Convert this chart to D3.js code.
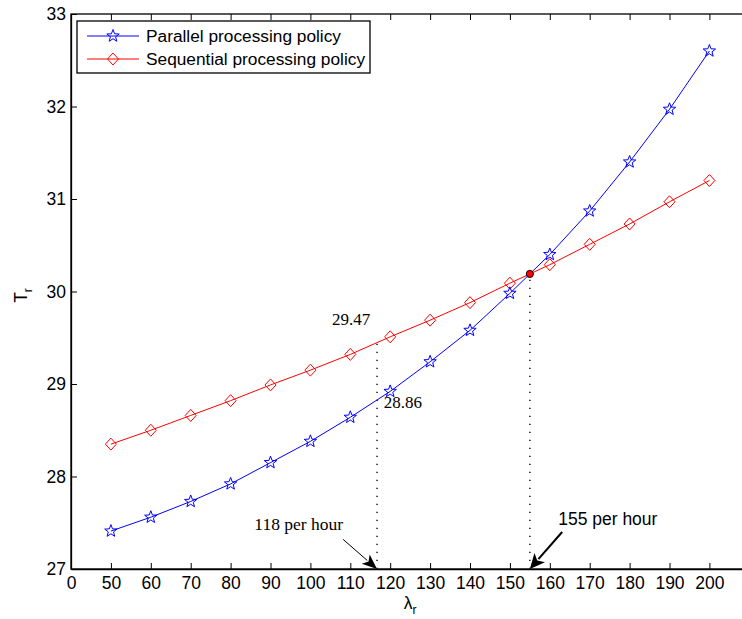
<!DOCTYPE html>
<html>
<head>
<meta charset="utf-8">
<script src="https://cdn.jsdelivr.net/npm/d3@7"></script>
<style>
  html, body { margin: 0; padding: 0; background: #fff; }
  svg { display: block; }
  .tick text { font-family: "Liberation Sans", Arial, Helvetica, sans-serif; font-size: 17.5px; fill: #000; }
</style>
</head>
<body>
<svg id="chart" width="742" height="619"></svg>
<script>
// ---- data ----
const lambda = [50, 60, 70, 80, 90, 100, 110, 120, 130, 140, 150, 160, 170, 180, 190, 200];
const parallelT = [27.41, 27.56, 27.73, 27.92, 28.15, 28.38, 28.64, 28.92, 29.24, 29.58, 29.98, 30.40, 30.87, 31.40, 31.97, 32.60];
const sequentialT = [28.35, 28.50, 28.66, 28.82, 28.99, 29.15, 29.32, 29.51, 29.69, 29.88, 30.09, 30.29, 30.51, 30.73, 30.97, 31.20];
const seriesNames = ["Parallel processing policy", "Sequential processing policy"];
const xTicks = [0, 50, 60, 70, 80, 90, 100, 110, 120, 130, 140, 150, 160, 170, 180, 190, 200];
const yTicks = [27, 28, 29, 30, 31, 32, 33];
const crossPoint = [155, 30.19];
const marker1 = { x: 116.7, top: 29.45, valueSeq: "29.47", valuePar: "28.86", label: "118 per hour" };
const marker2 = { x: 155, top: 30.19, label: "155 per hour" };
// annotation anchors in data units
const label29 = [105.4, 29.64];
const label28 = [118.4, 28.74];
const arrow1Tail = [108.2, 27.32];
const arrow2Tail = [163.1, 27.40];
const label118 = [108.2, 27.42];
const label155 = [162.1, 27.48];

// ---- layout ----
const svg = d3.select("#chart");
const plotLeft = 71, plotTop = 14, plotBottom = 569;
const step = 39.9;
const x = d3.scaleLinear().domain([0, 50, 210]).range([plotLeft, plotLeft + step, plotLeft + step * 17]);
const y = d3.scaleLinear().domain([27, 33]).range([plotBottom, plotTop]);

const blue = "#0000ff", red = "#ff0000";
const sans = '"Liberation Sans", Arial, Helvetica, sans-serif';
const serif = '"Liberation Serif", "Times New Roman", Times, serif';

// frame (top and left visible; right edge beyond canvas)
svg.append("rect")
  .attr("x", x(0)).attr("y", y(33))
  .attr("width", x(210) - x(0)).attr("height", y(27) - y(33))
  .attr("fill", "none").attr("stroke", "#000").attr("stroke-width", 1.3);

// axes
const xAxis = d3.axisBottom(x).tickValues(xTicks).tickFormat(d3.format("d")).tickSizeInner(-6).tickSizeOuter(0).tickPadding(8);
const gx = svg.append("g").attr("transform", `translate(0,${plotBottom})`).call(xAxis);
gx.select(".domain").attr("stroke", "#000").attr("stroke-width", 1.3);
gx.selectAll(".tick line").attr("stroke", "#000");

const xTop = d3.axisTop(x).tickValues(xTicks).tickFormat("").tickSizeInner(-6).tickSizeOuter(0);
const gxt = svg.append("g").attr("transform", `translate(0,${plotTop})`).call(xTop);
gxt.select(".domain").remove();
gxt.selectAll(".tick line").attr("stroke", "#000");

const yAxis = d3.axisLeft(y).tickValues(yTicks).tickFormat(d3.format("d")).tickSizeInner(-6).tickSizeOuter(0).tickPadding(5);
const gy = svg.append("g").attr("transform", `translate(${plotLeft},0)`).call(yAxis);
gy.select(".domain").attr("stroke", "#000").attr("stroke-width", 1.3);
gy.selectAll(".tick line").attr("stroke", "#000");

// axis labels
svg.append("text")
  .attr("transform", `translate(27,${(plotTop + plotBottom) / 2 + 4}) rotate(-90)`)
  .attr("text-anchor", "middle")
  .attr("font-family", sans).attr("font-size", 17.5)
  .html('T<tspan dy="5" font-size="12">r</tspan>');

svg.append("text")
  .attr("x", x(120) + 20).attr("y", 609)
  .attr("text-anchor", "middle")
  .attr("font-family", sans).attr("font-size", 17.5)
  .html('λ<tspan dy="5" font-size="12">r</tspan>');

// dotted guide lines
[marker1, marker2].forEach(m => {
  svg.append("line")
    .attr("x1", x(m.x)).attr("x2", x(m.x))
    .attr("y1", y(27)).attr("y2", y(m.top))
    .attr("stroke", "#222").attr("stroke-width", 1.6)
    .attr("stroke-dasharray", "1.2,6.8");
});

// markers
const starPath = (r) => {
  const pts = [];
  for (let i = 0; i < 10; i++) {
    const rr = i % 2 === 0 ? r : r * 0.42;
    const a = -Math.PI / 2 + i * Math.PI / 5;
    pts.push([rr * Math.cos(a), rr * Math.sin(a)]);
  }
  return "M" + pts.map(p => p.join(",")).join("L") + "Z";
};
const diamondPath = (w, h) => `M0,${-h}L${w},0L0,${h}L${-w},0Z`;

const line = d3.line().x(d => x(d[0])).y(d => y(d[1]));
const parData = lambda.map((l, i) => [l, parallelT[i]]);
const seqData = lambda.map((l, i) => [l, sequentialT[i]]);

svg.append("path").datum(seqData).attr("d", line)
  .attr("fill", "none").attr("stroke", red).attr("stroke-width", 1);
svg.append("path").datum(parData).attr("d", line)
  .attr("fill", "none").attr("stroke", blue).attr("stroke-width", 1);

svg.append("g").selectAll("path").data(seqData).join("path")
  .attr("transform", d => `translate(${x(d[0])},${y(d[1])})`)
  .attr("d", diamondPath(5.5, 6)).attr("fill", "none").attr("stroke", red).attr("stroke-width", 1);
svg.append("g").selectAll("path").data(parData).join("path")
  .attr("transform", d => `translate(${x(d[0])},${y(d[1])})`)
  .attr("d", starPath(6.5)).attr("fill", "none").attr("stroke", blue).attr("stroke-width", 1);

// intersection dot
svg.append("circle")
  .attr("cx", x(crossPoint[0])).attr("cy", y(crossPoint[1])).attr("r", 3.6)
  .attr("fill", red).attr("stroke", "#000").attr("stroke-width", 0.9);

// value labels
svg.append("text").attr("x", x(label29[0])).attr("y", y(label29[1]))
  .attr("font-family", serif).attr("font-size", 17).text(marker1.valueSeq);
svg.append("text").attr("x", x(label28[0])).attr("y", y(label28[1]))
  .attr("font-family", serif).attr("font-size", 17).text(marker1.valuePar);

// arrows
function arrow(tail, tipD, lw, hl, hw) {
  const x0 = x(tail[0]), y0 = y(tail[1]), x1 = x(tipD[0]), y1 = y(tipD[1]);
  const dx = x1 - x0, dy = y1 - y0, len = Math.hypot(dx, dy);
  const ux = dx / len, uy = dy / len;
  const bx = x1 - ux * hl, by = y1 - uy * hl;
  svg.append("line").attr("x1", x0).attr("y1", y0).attr("x2", bx + ux * 2).attr("y2", by + uy * 2)
    .attr("stroke", "#000").attr("stroke-width", lw);
  svg.append("path")
    .attr("d", `M${x1},${y1}L${bx - uy * hw},${by + ux * hw}L${bx + ux * hl * 0.25},${by + uy * hl * 0.25}L${bx + uy * hw},${by - ux * hw}Z`)
    .attr("fill", "#000");
}
arrow(arrow1Tail, [marker1.x, 27], 1, 15, 6);
arrow(arrow2Tail, [marker2.x, 27], 2, 15, 7);

svg.append("text").attr("x", x(label118[0])).attr("y", y(label118[1]))
  .attr("text-anchor", "end")
  .attr("font-family", serif).attr("font-size", 17.5).text(marker1.label);
svg.append("text").attr("x", x(label155[0])).attr("y", y(label155[1]))
  .attr("font-family", sans).attr("font-size", 17.5).text(marker2.label);

// legend
const lg = svg.append("g");
lg.append("rect").attr("x", 77).attr("y", 21).attr("width", 293).attr("height", 52)
  .attr("fill", "#fff").attr("stroke", "#000").attr("stroke-width", 1.3);
const legendItems = [
  { name: seriesNames[0], color: blue, shape: starPath(6.5) },
  { name: seriesNames[1], color: red, shape: diamondPath(5.5, 6) }
];
legendItems.forEach((it, i) => {
  const cy = 36 + i * 23;
  lg.append("line").attr("x1", 87).attr("x2", 139).attr("y1", cy).attr("y2", cy)
    .attr("stroke", it.color).attr("stroke-width", 1);
  lg.append("path").attr("transform", `translate(113,${cy})`).attr("d", it.shape)
    .attr("fill", "none").attr("stroke", it.color).attr("stroke-width", 1);
  lg.append("text").attr("x", 146).attr("y", cy + 6)
    .attr("font-family", sans).attr("font-size", 17.3).attr("fill", "#000").text(it.name);
});
</script>
</body>
</html>
